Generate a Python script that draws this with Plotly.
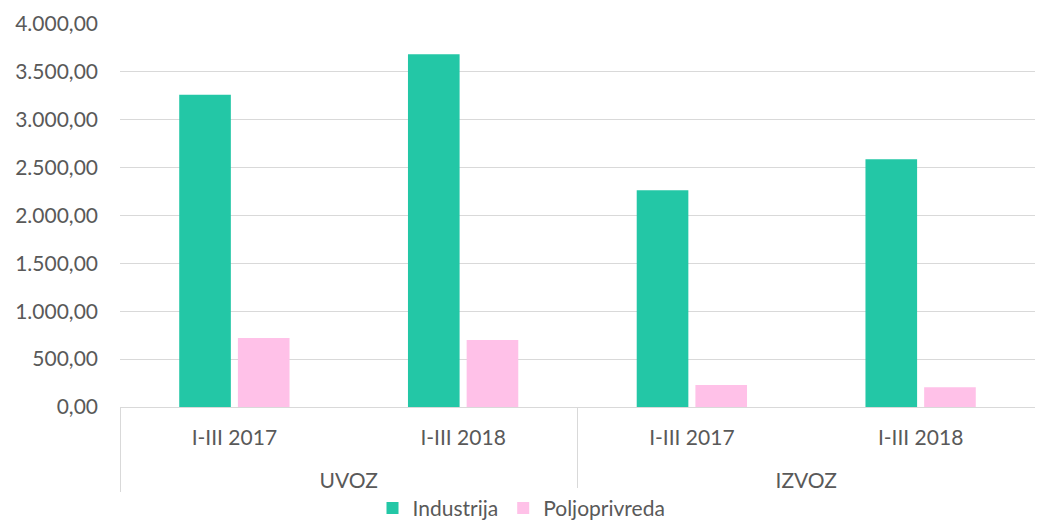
import plotly.graph_objects as go

groups = ["UVOZ", "UVOZ", "IZVOZ", "IZVOZ"]
periods = ["I-III 2017", "I-III 2018", "I-III 2017", "I-III 2018"]
industrija = [3260, 3685, 2263, 2587]
poljoprivreda = [720, 700, 230, 206]

group_labels = ["<span style='font-size:40px'> </span><br>" + g for g in groups]

font = "Lato, 'Open Sans', sans-serif"
fig = go.Figure()
fig.add_trace(go.Bar(x=[group_labels, periods], y=industrija, name="Industrija",
                     marker=dict(color="#23C7A6", line=dict(width=0))))
fig.add_trace(go.Bar(x=[group_labels, periods], y=poljoprivreda, name="Poljoprivreda",
                     marker=dict(color="#FFC1E8", line=dict(width=0))))

fig.update_layout(
    width=1027, height=518,
    margin=dict(l=112, r=0, t=16, b=119),
    paper_bgcolor="white", plot_bgcolor="white",
    barmode="group", bargap=0.487, bargroupgap=0.12,
    separators=",.",
    font=dict(family=font, size=21, color="#595959"),
    legend=dict(orientation="h", x=0.5, xanchor="center", xref="container",
                y=0.034, yanchor="middle", yref="container",
                font=dict(size=21, color="#595959"), itemsizing="constant",
                traceorder="normal", itemwidth=30, tracegroupgap=0),
    yaxis=dict(range=[0, 4000], dtick=500, tickformat=",.2f",
               gridcolor="#D9D9D9", gridwidth=1.3, zeroline=False,
               ticks="", showline=False, automargin=False, ticklabelstandoff=21,
               tickfont=dict(size=21, color="#595959")),
    xaxis=dict(type="multicategory", showline=True, linecolor="#D9D9D9",
               linewidth=1.3, showdividers=True, dividercolor="#D9D9D9",
               dividerwidth=1.3, ticks="", automargin=False, ticklabelstandoff=12,
               tickfont=dict(size=21, color="#595959")),
)
fig.write_html("out.html")
